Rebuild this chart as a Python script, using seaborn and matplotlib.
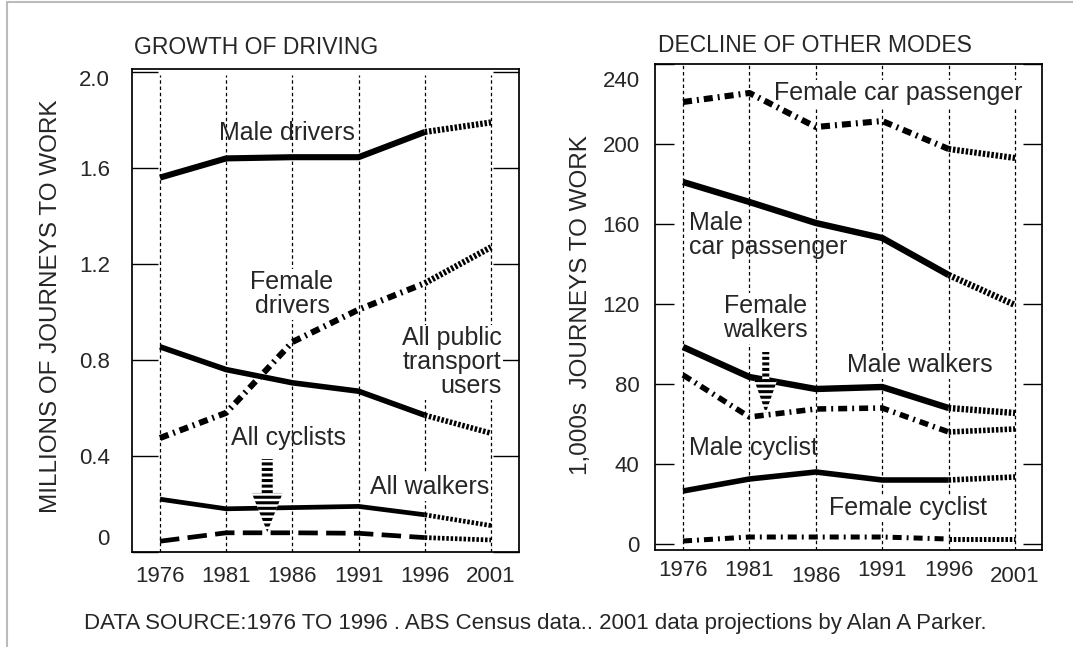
import matplotlib
matplotlib.use("Agg")
import matplotlib.pyplot as plt
import matplotlib.transforms as mtransforms
from matplotlib import font_manager
from matplotlib.patches import FancyArrow, Rectangle
import pandas as pd
import seaborn as sns

# === 1. Data ===
years = [1976, 1981, 1986, 1991, 1996, 2001]

# left panel, millions of journeys to work
male_drivers = [1.56, 1.64, 1.645, 1.645, 1.75, 1.79]
female_drivers = [0.475, 0.58, 0.875, 1.01, 1.12, 1.27]
public_transport = [0.855, 0.76, 0.705, 0.67, 0.57, 0.495]
all_walkers = [0.22, 0.18, 0.185, 0.19, 0.155, 0.11]
all_cyclists = [0.045, 0.08, 0.08, 0.078, 0.06, 0.05]

# right panel, 1,000s of journeys to work
female_car_pass = [221, 225.5, 208.5, 211.5, 197.5, 193]
male_car_pass = [181, 171, 160.5, 153, 134.5, 119.5]
male_walkers = [98.5, 83.5, 77.5, 78.5, 68, 65.5]
female_walkers = [84.5, 63.5, 67.5, 68, 56, 57.5]
male_cyclist = [26.5, 32.5, 36, 32, 32, 33.5]
female_cyclist = [1.5, 3.5, 3.5, 3.5, 2.5, 2.5]

left_ticks = [0, 0.4, 0.8, 1.2, 1.6, 2.0]
left_tick_labels = ["0", "0.4", "0.8", "1.2", "1.6", "2.0"]
right_ticks = [0, 40, 80, 120, 160, 200, 240]
right_tick_labels = ["0", "40", "80", "120", "160", "200", "240"]

# === 2. Style ===
sns.set_theme(style="white")
plt.rcParams["font.family"] = ["Liberation Sans", "DejaVu Sans"]
plt.rcParams["axes.edgecolor"] = "black"
plt.rcParams["lines.scale_dashes"] = False
plt.rcParams["hatch.linewidth"] = 2.2

# titles use a narrow face when one is around
try:
    font_manager.findfont("Liberation Sans Narrow", fallback_to_default=False)
    title_font, title_size = ["Liberation Sans Narrow"], 18
except ValueError:
    title_font, title_size = ["Liberation Sans"], 16.5

SOLID = "-"
DASHDOT = (0, (6.5, 3.6, 1.4, 3.6))
DASHED = (0, (14, 6))
DOTTED = (0, (1.8, 1.3))


def draw_series(ax, values, style, lw):
    df = pd.DataFrame({"year": years, "value": values})
    # surveyed years 1976-1996, then the 2001 projection dotted
    sns.lineplot(data=df.iloc[:5], x="year", y="value", ax=ax, color="black",
                 linewidth=lw, linestyle=style, errorbar=None, zorder=3,
                 solid_capstyle="butt")
    sns.lineplot(data=df.iloc[4:], x="year", y="value", ax=ax, color="black",
                 linewidth=lw, linestyle=DOTTED, errorbar=None, zorder=3)


def shift_label(label, fig, dy_px):
    label.set_transform(label.get_transform() + mtransforms.ScaledTranslation(
        0, dy_px / 100, fig.dpi_scale_trans))


fig = plt.figure(figsize=(10.73, 6.47), dpi=100)
ax1 = fig.add_axes([132 / 1073, 1 - 552 / 647, 387 / 1073, 483 / 647])
ax2 = fig.add_axes([655 / 1073, 1 - 550 / 647, 387 / 1073, 486 / 647])

# === 3. Left panel ===
for yr in years:
    ax1.axvline(yr, ymax=0.988, color="black", lw=0.9,
                linestyle=(0, (2.5, 2)), zorder=1)

draw_series(ax1, male_drivers, SOLID, 4.4)
draw_series(ax1, female_drivers, DASHDOT, 4.4)
draw_series(ax1, public_transport, SOLID, 4.0)
draw_series(ax1, all_walkers, SOLID, 3.4)
draw_series(ax1, all_cyclists, DASHED, 3.4)

ax1.set_xlim(1973.885, 2003.115)
ax1.set_ylim(0, 2.0125)
ax1.set_yticks(left_ticks, left_tick_labels)
ax1.set_xticks(years, [str(y) for y in years])
ax1.tick_params(axis="y", direction="in", length=18.5, width=1, left=True,
                right=True, labelsize=16, pad=16, color="black")
ax1.tick_params(axis="x", length=0, labelsize=16, pad=10)
ax1.set_xlabel("")
ax1.set_ylabel("MILLIONS OF JOURNEYS TO WORK", fontsize=17.5)
ax1.yaxis.set_label_coords(-0.181, 0.508)
lbls = ax1.get_yticklabels()
shift_label(lbls[0], fig, 15)
shift_label(lbls[-1], fig, -6)

box = dict(facecolor="white", edgecolor="none", pad=1)
ax1.text(1985.6, 1.746, "Male drivers", fontsize=18, ha="center", va="center", zorder=2)
ax1.text(1985.97, 1.075, "Female\ndrivers", fontsize=18, ha="center", va="center",
         linespacing=1.0, bbox=box, zorder=2)
ax1.text(2001.8, 0.79, "All public\ntransport\nusers", fontsize=18, ha="right",
         va="center", multialignment="right", linespacing=1.0, bbox=box, zorder=2)
ax1.text(1985.74, 0.475, "All cyclists", fontsize=18, ha="center", va="center", zorder=2)
ax1.text(1996.4, 0.27, "All walkers", fontsize=18, ha="center", va="center",
         bbox=box, zorder=2)
ax1.add_patch(FancyArrow(1984.1, 0.3875, 0, -0.3045, width=0.83, head_width=2.34,
                         head_length=0.163, length_includes_head=True,
                         facecolor="white", edgecolor="black", linewidth=0,
                         hatch="---", zorder=4))
ax1.text(0.32, 1 + 22 / 483, "GROWTH OF DRIVING", transform=ax1.transAxes,
         fontsize=title_size, family=title_font, ha="center", va="center")

# === 4. Right panel ===
for yr in years:
    ax2.axvline(yr, color="black", lw=0.9, linestyle=(0, (2.5, 2)), zorder=1)

draw_series(ax2, female_car_pass, DASHDOT, 4.4)
draw_series(ax2, male_car_pass, SOLID, 4.6)
draw_series(ax2, male_walkers, SOLID, 4.6)
draw_series(ax2, female_walkers, DASHDOT, 4.0)
draw_series(ax2, male_cyclist, SOLID, 4.0)
draw_series(ax2, female_cyclist, DASHDOT, 3.6)

ax2.set_xlim(1973.89, 2003.03)
ax2.set_ylim(-3, 240)
ax2.set_yticks(right_ticks, right_tick_labels)
ax2.set_xticks(years, [str(y) for y in years])
ax2.tick_params(axis="y", direction="in", length=14, width=1, left=True,
                right=True, labelsize=16, pad=11, color="black")
ax2.tick_params(axis="x", length=0, labelsize=16, pad=7)
ax2.set_xlabel("")
ax2.set_ylabel("1,000s  JOURNEYS TO WORK", fontsize=17.5)
ax2.yaxis.set_label_coords(-0.162, 0.504)
shift_label(ax2.get_yticklabels()[-1], fig, -15)
xl = ax2.get_xticklabels()
shift_label(xl[2], fig, -6)
shift_label(xl[5], fig, -6)

ax2.text(1992.19, 225.5, "Female car passenger", fontsize=18, ha="center",
         va="center", bbox=box, zorder=2)
ax2.text(1976.45, 154.5, "Male\ncar passenger", fontsize=18, ha="left",
         va="center", linespacing=1.0, zorder=2)
ax2.text(1982.2, 113, "Female\nwalkers", fontsize=18, ha="center", va="center",
         linespacing=1.0, bbox=box, zorder=2)
ax2.text(1993.85, 89.5, "Male walkers", fontsize=18, ha="center", va="center",
         bbox=box, zorder=2)
ax2.text(1976.45, 48, "Male cyclist", fontsize=18, ha="left", va="center", zorder=2)
ax2.text(1992.94, 18, "Female cyclist", fontsize=18, ha="center", va="center",
         bbox=box, zorder=2)
ax2.add_patch(FancyArrow(1982.23, 96, 0, -30.5, width=0.53, head_width=1.73,
                         head_length=16.5, length_includes_head=True,
                         facecolor="white", edgecolor="black", linewidth=0,
                         hatch="---", zorder=4))
ax2.text(0.413, 1 + 18 / 486, "DECLINE OF OTHER MODES", transform=ax2.transAxes,
         fontsize=title_size, family=title_font, ha="center", va="center")

# === 5. Footer and frame ===
fig.text(535 / 1073, 1 - 623 / 647,
         "DATA SOURCE:1976 TO 1996 . ABS Census data.. 2001 data projections by Alan A Parker.",
         fontsize=16, ha="center", va="center")
fig.add_artist(Rectangle((7 / 1073, -0.05), 1.2, 1.05 - 2 / 647,
                         transform=fig.transFigure, fill=False,
                         edgecolor="#bbbbbb", lw=1.5))

fig.savefig("out.png", dpi=100)
